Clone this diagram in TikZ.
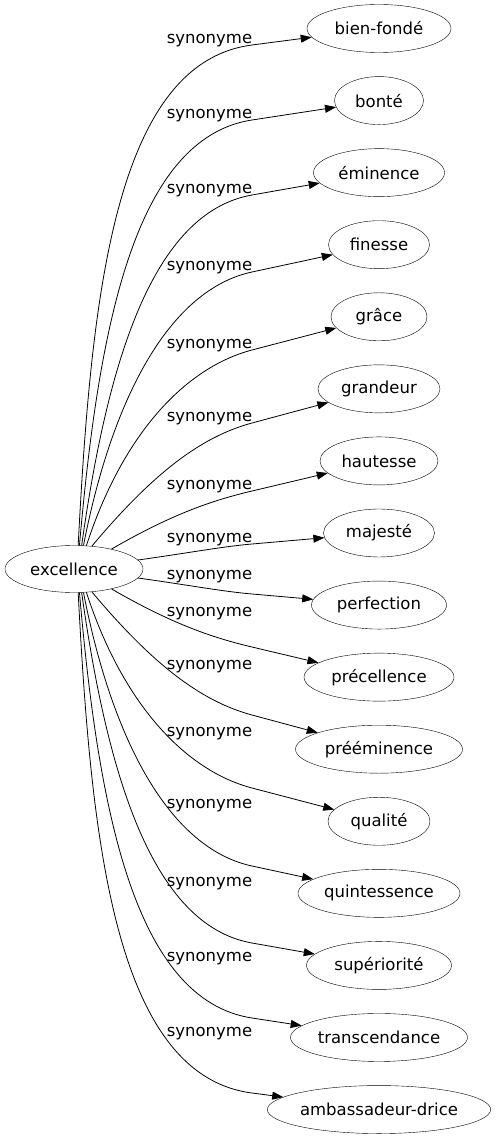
\documentclass[tikz,border=0pt]{standalone}
\usepackage{fontspec}
\setmainfont{DejaVu Sans}
\usetikzlibrary{arrows.meta,calc,shapes.geometric}

\begin{document}
\begin{tikzpicture}[
  x=1pt,y=-1pt,
  every node/.style={font=\fontsize{16.5}{19}\selectfont},
  root/.style={draw,ellipse,inner sep=0pt,minimum width=138pt,minimum height=47pt},
  word/.style={draw,ellipse,inner sep=0pt,minimum height=48pt},
  rel/.style={inner sep=0pt},
  link/.style={-{Triangle[length=11pt,width=8pt]},line width=0.8pt}
]
\useasboundingbox (0,0) rectangle (496,1139);
\node[root] (exc) at (74,569) {excellence};
% k / word / width / label y / start anchor / out angle / waypoint y
\foreach \k/\txt/\nw/\ly/\sa/\oa/\wy in {
  0/bien-fondé/144/40/80/87/45,
  1/bonté/89/115/77/85/120,
  2/éminence/131/190/72/82/195,
  3/finesse/101/267/68/79/272,
  4/grâce/96/345/62/72/350,
  5/grandeur/122/418/52/50/423,
  6/hautesse/118/486/28/30/491,
  7/majesté/111/539/8/8/544,
  8/perfection/135/576/352/-8/594,
  9/précellence/150/613/332/-30/647,
  10/prééminence/167/666/308/-50/715,
  11/qualité/102/733/298/-72/788,
  12/quintessence/162/805/292/-79/866,
  13/supériorité/145/883/288/-82/943,
  14/transcendance/177/958/283/-85/1018,
  15/ambassadeur-drice/222/1033/280/-87/1093}{
  \pgfmathsetmacro\ty{28.5+72.07*\k}
  \node[word,minimum width=\nw pt] (t\k) at (379,\ty) {\txt};
  \node[rel] (lab\k) at (209.5,\ly+1) {synonyme};
  \coordinate (w\k) at (252,\wy);
  \draw[link] let \p1=($(t\k)-(w\k)$), \n1={atan2(\y1,\x1)+180} in
    (exc.\sa) to[out=\oa,in=\n1,out looseness=1.2,in looseness=0.67] (w\k) -- (t\k);
}
\end{tikzpicture}
\end{document}
